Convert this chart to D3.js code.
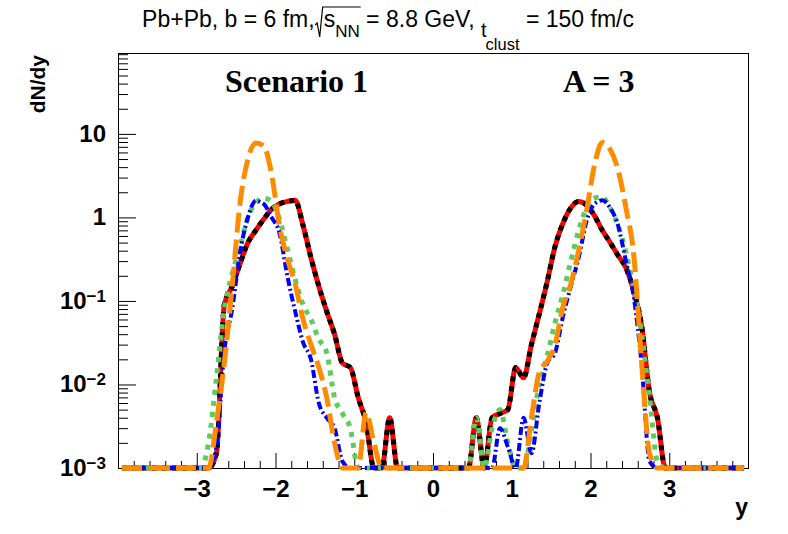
<!DOCTYPE html>
<html>
<head>
<meta charset="utf-8">
<script src="https://cdn.jsdelivr.net/npm/d3@7"></script>
<style>
body { margin: 0; background: #fff; }
text { font-family: "Liberation Sans", Arial, Helvetica, sans-serif; white-space: pre; }
</style>
</head>
<body>
<script>
// bin centres of the rapidity histogram, -3.95 ... 3.95, width 0.1
let binCenters = d3.range(80).map(function (i) { return +(-3.95 + i * 0.1).toFixed(2); });

// dN/dy per bin (0 = empty bin, drawn on the floor)
let blackRed = [
   0, 0, 0, 0, 0, 0, 0, 0, 0, 0,
   0, 0, 0.0015, 0.09, 0.15, 0.28, 0.5, 0.7, 0.95, 1.25,
   1.45, 1.55, 1.6, 0.8, 0.33, 0.15, 0.075, 0.04, 0.018, 0.016,
   0.007, 0.0035, 0, 0, 0.004, 0, 0, 0, 0, 0,
   0, 0, 0, 0, 0, 0.004, 0.0008, 0.004, 0.0045, 0.005,
   0.016, 0.012, 0.03, 0.07, 0.17, 0.45, 0.85, 1.3, 1.55, 1.4,
   1.05, 0.7, 0.5, 0.35, 0.25, 0.13, 0.05, 0.008, 0.004, 0,
   0, 0, 0, 0, 0, 0, 0, 0, 0, 0];
let green = [
   0, 0, 0, 0, 0, 0, 0, 0, 0, 0,
   0.0008, 0.002, 0.012, 0.08, 0.21, 0.45, 1.0, 1.5, 1.7, 1.55,
   0.95, 0.42, 0.18, 0.09, 0.06, 0.035, 0.024, 0.007, 0.0045, 0.003,
   0.0008, 0, 0, 0, 0, 0, 0, 0, 0, 0,
   0, 0, 0, 0, 0.0008, 0.004, 0.0008, 0.003, 0.005, 0.002,
   0.0008, 0.0009, 0.0028, 0.01, 0.022, 0.055, 0.12, 0.3, 0.7, 1.3,
   1.7, 1.75, 1.3, 0.8, 0.38, 0.14, 0.04, 0.007, 0.0012, 0,
   0, 0, 0, 0, 0, 0, 0, 0, 0, 0];
let blue = [
   0, 0, 0, 0, 0, 0, 0, 0, 0, 0,
   0, 0.0008, 0.0018, 0.025, 0.08, 0.38, 1.0, 1.58, 1.45, 1.0,
   0.65, 0.2, 0.075, 0.032, 0.02, 0.006, 0.004, 0.003, 0.0012, 0,
   0, 0, 0, 0, 0, 0, 0, 0, 0, 0,
   0, 0, 0, 0, 0, 0, 0, 0.0008, 0.003, 0.0018,
   0.001, 0.004, 0.0015, 0.006, 0.018, 0.024, 0.065, 0.15, 0.33, 0.9,
   1.45, 1.6, 1.3, 0.8, 0.3, 0.11, 0.017, 0.0012, 0, 0,
   0, 0, 0, 0, 0, 0, 0, 0, 0, 0];
let orange = [
   0, 0, 0, 0, 0, 0, 0, 0, 0, 0,
   0, 0.0008, 0.0035, 0.018, 0.15, 1.5, 5.0, 7.8, 7.2, 3.3,
   0.8, 0.32, 0.16, 0.06, 0.03, 0.016, 0.007, 0.002, 0, 0,
   0.0008, 0.0046, 0.002, 0, 0, 0, 0, 0, 0, 0,
   0, 0, 0, 0, 0, 0, 0, 0, 0, 0,
   0, 0.0008, 0.004, 0.014, 0.019, 0.03, 0.085, 0.16, 0.4, 1.2,
   4.2, 7.9, 6.5, 3.7, 1.3, 0.35, 0.018, 0.0015, 0, 0,
   0, 0, 0, 0, 0, 0, 0, 0, 0, 0];

let xMajor = [-3, -2, -1, 0, 1, 2, 3];
let yMajor = [1e-3, 1e-2, 1e-1, 1, 10];
let yLabels = [["10", "\u22123"], ["10", "\u22122"], ["10", "\u22121"], ["1", ""], ["10", ""]];

let svg = d3.select("body").append("svg")
   .attr("width", 788).attr("height", 534);

let x = d3.scaleLinear().domain([-4, 4]).range([118, 748]);
let y = d3.scaleLog().domain([1e-3, 93]).range([468, 53]);

// ticks, ROOT style: pointing into the frame
let xMinor = d3.range(-40, 41, 2).map(function (i) { return i / 10; })
   .filter(function (v) { return Math.abs(v - Math.round(v)) > 1e-6; });
svg.append("g").attr("transform", "translate(0,468)")
   .call(d3.axisBottom(x).tickValues(xMinor).tickSizeInner(-7).tickSizeOuter(0).tickFormat(""));
let xAxis = svg.append("g").attr("transform", "translate(0,468)")
   .call(d3.axisBottom(x).tickValues(xMajor).tickSizeInner(-15).tickSizeOuter(0)
      .tickPadding(12).tickFormat(d3.format("d")));
xAxis.selectAll("text").attr("font-size", 24).attr("font-weight", "bold")
   .attr("fill", "#000").style("font-family", "Liberation Sans, Arial, sans-serif");

let yMinor = [];
yMajor.forEach(function (d) {
   for (let k = 2; k <= 9; k++) if (k * d <= 93) yMinor.push(k * d);
});
svg.append("g").attr("transform", "translate(118,0)")
   .call(d3.axisLeft(y).tickValues(yMinor).tickSizeInner(-10).tickSizeOuter(0).tickFormat(""));
let yAxis = svg.append("g").attr("transform", "translate(118,0)")
   .call(d3.axisLeft(y).tickValues(yMajor).tickSizeInner(-18).tickSizeOuter(0).tickPadding(12));
yAxis.selectAll("text").each(function (d, i) {
   let t = d3.select(this).text("").attr("font-size", 24).attr("font-weight", "bold")
      .attr("dy", "0.3em").attr("fill", "#000").style("font-family", "Liberation Sans, Arial, sans-serif");
   t.append("tspan").text(yLabels[i][0]);
   if (yLabels[i][1]) {
      t.append("tspan").attr("dy", "-0.42em").attr("font-size", 17).text(yLabels[i][1]);
   }
});
svg.selectAll(".domain").remove();
svg.selectAll(".tick line").attr("stroke", "#000");

// frame
svg.append("rect").attr("x", 118.5).attr("y", 53.5).attr("width", 630).attr("height", 415)
   .attr("fill", "none").attr("stroke", "#000").attr("stroke-width", 1);

// curves
let line = d3.line()
   .x(function (d) { return x(d[0]); })
   .y(function (d) { return y(Math.max(d[1], 1e-3)); })
   .curve(d3.curveMonotoneX);
function pts(vals) { return binCenters.map(function (c, i) { return [c, vals[i]]; }); }

let styles = [
   { v: blackRed, color: "#ff0000", w: 5, dash: null },
   { v: blackRed, color: "#000000", w: 5, dash: "5,5" },
   { v: green, color: "#5dcb5d", w: 5, dash: "5,6" },
   { v: blue, color: "#0000ff", w: 4, dash: "8,3,2,3" },
   { v: orange, color: "#ff8c00", w: 5, dash: "20,7" }
];
let curves = svg.append("g").selectAll("path").data(styles);
curves.enter().append("path")
   .attr("d", function (d) { return line(pts(d.v)); })
   .attr("fill", "none")
   .attr("stroke", function (d) { return d.color; })
   .attr("stroke-width", function (d) { return d.w; })
   .attr("stroke-dasharray", function (d) { return d.dash; })
   .attr("stroke-linejoin", "round");

// axis titles
svg.append("text").attr("transform", "translate(45,55) rotate(-90)")
   .attr("text-anchor", "end").attr("font-size", 21).attr("font-weight", "bold").text("dN/dy");
svg.append("text").attr("x", 748).attr("y", 515)
   .attr("text-anchor", "end").attr("font-size", 23).attr("font-weight", "bold").text("y");

// labels inside frame
svg.append("text").attr("x", 225).attr("y", 92)
   .style("font-family", "Liberation Serif, Times New Roman, serif")
   .attr("font-size", 32).attr("font-weight", "bold").text("Scenario 1");
svg.append("text").attr("x", 563).attr("y", 92)
   .style("font-family", "Liberation Serif, Times New Roman, serif")
   .attr("font-size", 32).attr("font-weight", "bold").text("A = 3");

// title built piece by piece (TLatex-like)
let title = svg.append("g");
let cx = 0;
function piece(str, size, base) {
   let t = title.append("text").attr("x", cx).attr("y", base).attr("font-size", size).text(str);
   let w = t.node().getComputedTextLength();
   let x0 = cx;
   cx += w;
   return [x0, w];
}
piece("Pb+Pb, b = 6 fm,", 23, 0);
let sq0 = cx;
cx += 9;
piece("s", 23, 0);
piece("NN", 17, 10);
let sqEnd = cx;
piece(" = 8.8 GeV, ", 23, 0);
piece("t", 20, 10);
cx -= 1;
piece("clust", 16.5, 23);
piece(" = 150 fm/c", 23, 0);
title.append("path")
   .attr("d", "M" + (sq0 + 0.5) + ",-2 L" + (sq0 + 2.5) + ",-4 L" + (sq0 + 5) + ",10 L"
      + (sq0 + 8) + ",-20 H" + (sqEnd + 1))
   .attr("fill", "none").attr("stroke", "#000").attr("stroke-width", 1.2);
title.attr("transform", "translate(" + (388 - cx / 2) + ",27)");
</script>
</body>
</html>
